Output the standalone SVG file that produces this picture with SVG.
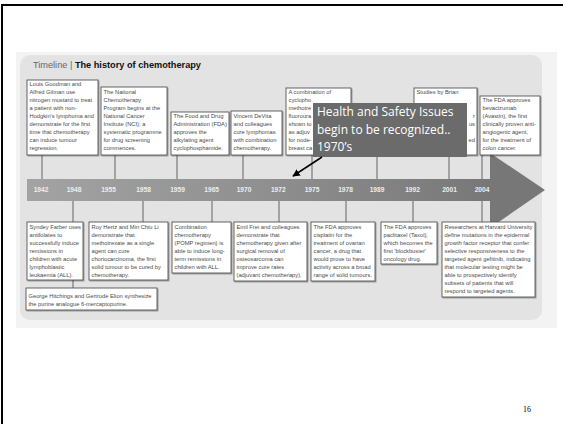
<svg xmlns="http://www.w3.org/2000/svg" width="563" height="424" viewBox="0 0 563 424">
<style>
.bx{fill:#fff;stroke:#555;stroke-width:0.9;filter:url(#sh)}
.t{font-family:"Liberation Sans",Arial,sans-serif;font-size:5.75px;fill:#4a4a4a}
.yr{font-family:"Liberation Sans",Arial,sans-serif;font-size:6.6px;font-weight:bold;fill:#eeeeee;text-anchor:middle}
.ln{stroke:#555;stroke-width:0.9;fill:none}
.co{font-family:"Open Sans","Noto Sans",sans-serif;font-size:12px;fill:#fff}
</style>
<defs>
<filter id="sh" x="-10%" y="-10%" width="130%" height="130%">
<feDropShadow dx="1" dy="1" stdDeviation="0.6" flood-color="#000" flood-opacity="0.35"/>
</filter>
<linearGradient id="band" x1="0" y1="0" x2="1" y2="0">
<stop offset="0" stop-color="#a3a3a3"/>
<stop offset="0.5" stop-color="#909090"/>
<stop offset="1" stop-color="#777"/>
</linearGradient>
<marker id="ah" viewBox="0 0 10 10" refX="9" refY="5" markerWidth="5" markerHeight="5" orient="auto">
<path d="M0,0 L10,5 L0,10 z" fill="#000"/>
</marker>
</defs>
<rect x="0" y="0" width="563" height="424" fill="#fff"/>
<rect x="2" y="5" width="620" height="480" fill="none" stroke="#000" stroke-width="2"/>
<g id="background">
<rect x="16" y="52" width="541" height="276" fill="#f3f3f3"/>
<rect x="20" y="55" width="522" height="265" rx="10" fill="#e3e3e3"/>
</g>
<g id="title">
<text x="33" y="68" font-family="Liberation Sans,Arial,sans-serif" font-size="9.2" fill="#666">Timeline | <tspan font-weight="bold" fill="#111">The history of chemotherapy</tspan></text>
</g>
<g id="timeline">
<rect x="27" y="179" width="465" height="22" fill="url(#band)"/>
<polygon points="490,153 545,190 490,228" fill="#777"/>
<text class="yr" x="41" y="191.6">1942</text>
<text class="yr" x="74" y="191.6">1948</text>
<text class="yr" x="108.5" y="191.6">1955</text>
<text class="yr" x="143.5" y="191.6">1958</text>
<text class="yr" x="177.5" y="191.6">1959</text>
<text class="yr" x="211.7" y="191.6">1965</text>
<text class="yr" x="244" y="191.6">1970</text>
<text class="yr" x="278.3" y="191.6">1972</text>
<text class="yr" x="312" y="191.6">1975</text>
<text class="yr" x="345.5" y="191.6">1978</text>
<text class="yr" x="377" y="191.6">1989</text>
<text class="yr" x="412.5" y="191.6">1992</text>
<text class="yr" x="449.5" y="191.6">2001</text>
<text class="yr" x="482" y="191.6">2004</text>
</g>
<g id="connectors">
<line class="ln" x1="42" y1="155" x2="42" y2="179"/>
<line class="ln" x1="115" y1="155" x2="115" y2="179"/>
<line class="ln" x1="177" y1="155" x2="177" y2="179"/>
<line class="ln" x1="243" y1="155" x2="243" y2="179"/>
<line class="ln" x1="312" y1="155" x2="312" y2="179"/>
<line class="ln" x1="377" y1="155" x2="377" y2="179"/>
<line class="ln" x1="449" y1="155" x2="449" y2="179"/>
<line class="ln" x1="482" y1="155" x2="482" y2="179"/>
<line class="ln" x1="73" y1="201" x2="73" y2="222"/>
<line class="ln" x1="143" y1="201" x2="143" y2="222"/>
<line class="ln" x1="212" y1="201" x2="212" y2="222"/>
<line class="ln" x1="279" y1="201" x2="279" y2="222"/>
<line class="ln" x1="346" y1="201" x2="346" y2="222"/>
<line class="ln" x1="413" y1="201" x2="413" y2="222"/>
<line class="ln" x1="482" y1="201" x2="482" y2="222"/>
<line class="ln" x1="73" y1="280" x2="73" y2="288"/>
</g>
<g id="t1942">
<rect class="bx" x="27" y="80" width="71" height="75"/>
<text class="t" y="86.3"><tspan x="29.5">Louis Goodman and</tspan><tspan x="29.5" dy="8">Alfred Gilman use</tspan><tspan x="29.5" dy="8">nitrogen mustard to treat</tspan><tspan x="29.5" dy="8">a patient with non-</tspan><tspan x="29.5" dy="8">Hodgkin's lymphoma and</tspan><tspan x="29.5" dy="8">demonstrate for the first</tspan><tspan x="29.5" dy="8">time that chemotherapy</tspan><tspan x="29.5" dy="8">can induce tumour</tspan><tspan x="29.5" dy="8">regression.</tspan></text>
</g>
<g id="t1955">
<rect class="bx" x="101" y="87" width="66" height="68"/>
<text class="t" y="94.3"><tspan x="103.5">The National</tspan><tspan x="103.5" dy="8">Chemotherapy</tspan><tspan x="103.5" dy="8">Program begins at the</tspan><tspan x="103.5" dy="8">National Cancer</tspan><tspan x="103.5" dy="8">Institute (NCI); a</tspan><tspan x="103.5" dy="8">systematic programme</tspan><tspan x="103.5" dy="8">for drug screening</tspan><tspan x="103.5" dy="8">commences.</tspan></text>
</g>
<g id="t1959">
<rect class="bx" x="171" y="112" width="58" height="43"/>
<text class="t" y="118.3"><tspan x="173.5">The Food and Drug</tspan><tspan x="173.5" dy="8">Administration (FDA)</tspan><tspan x="173.5" dy="8">approves the</tspan><tspan x="173.5" dy="8">alkylating agent</tspan><tspan x="173.5" dy="8">cyclophosphamide.</tspan></text>
</g>
<g id="t1970">
<rect class="bx" x="231" y="111" width="51" height="44"/>
<text class="t" y="118.3"><tspan x="233.5">Vincent DeVita</tspan><tspan x="233.5" dy="8">and colleagues</tspan><tspan x="233.5" dy="8">cure lymphomas</tspan><tspan x="233.5" dy="8">with combination</tspan><tspan x="233.5" dy="8">chemotherapy.</tspan></text>
</g>
<g id="t1975">
<rect class="bx" x="286" y="88" width="65" height="67"/>
<text class="t" y="94.3"><tspan x="288.5">A combination of</tspan><tspan x="288.5" dy="8">cyclopho</tspan><tspan x="288.5" dy="8">methotre</tspan><tspan x="288.5" dy="8">fluoroura</tspan><tspan x="288.5" dy="8">shown to</tspan><tspan x="288.5" dy="8">as adjuv</tspan><tspan x="288.5" dy="8">for node-</tspan><tspan x="288.5" dy="8">breast ca</tspan></text>
</g>
<g id="t2001">
<rect class="bx" x="414" y="88" width="63" height="67"/>
<text class="t" x="416.5" y="94.3">Studies by Brian</text>
<text class="t" x="475" y="118.3" text-anchor="end">r</text>
<text class="t" x="475" y="126.3" text-anchor="end">us</text>
<text class="t" x="475" y="142.3" text-anchor="end">ed</text>
</g>
<g id="t2004">
<rect class="bx" x="480" y="96" width="60" height="59"/>
<text class="t" y="102.3"><tspan x="482.5">The FDA approves</tspan><tspan x="482.5" dy="8">bevacizumab</tspan><tspan x="482.5" dy="8">(Avastin), the first</tspan><tspan x="482.5" dy="8">clinically proven anti-</tspan><tspan x="482.5" dy="8">angiogenic agent,</tspan><tspan x="482.5" dy="8">for the treatment of</tspan><tspan x="482.5" dy="8">colon cancer.</tspan></text>
</g>
<g id="b1948">
<rect class="bx" x="27" y="222" width="56" height="58"/>
<text class="t" y="229.3"><tspan x="29.5">Syndey Farber uses</tspan><tspan x="29.5" dy="8">antifolates to</tspan><tspan x="29.5" dy="8">successfully induce</tspan><tspan x="29.5" dy="8">remissions in</tspan><tspan x="29.5" dy="8">children with acute</tspan><tspan x="29.5" dy="8">lymphoblastic</tspan><tspan x="29.5" dy="8">leukaemia (ALL).</tspan></text>
</g>
<g id="b1958">
<rect class="bx" x="89" y="222" width="79" height="58"/>
<text class="t" y="229.3"><tspan x="91.5">Roy Hertz and Min Chiu Li</tspan><tspan x="91.5" dy="8">demonstrate that</tspan><tspan x="91.5" dy="8">methotrexate as a single</tspan><tspan x="91.5" dy="8">agent can cure</tspan><tspan x="91.5" dy="8">choriocarcinoma, the first</tspan><tspan x="91.5" dy="8">solid tumour to be cured by</tspan><tspan x="91.5" dy="8">chemotherapy.</tspan></text>
</g>
<g id="b1965">
<rect class="bx" x="172" y="222" width="59" height="51"/>
<text class="t" y="229.3"><tspan x="174.5">Combination</tspan><tspan x="174.5" dy="8">chemotherapy</tspan><tspan x="174.5" dy="8">(POMP regimen) is</tspan><tspan x="174.5" dy="8">able to induce long-</tspan><tspan x="174.5" dy="8">term remissions in</tspan><tspan x="174.5" dy="8">children with ALL.</tspan></text>
</g>
<g id="b1972">
<rect class="bx" x="234" y="222" width="73" height="59"/>
<text class="t" y="229.3"><tspan x="236.5">Emil Frei and colleagues</tspan><tspan x="236.5" dy="8">demonstrate that</tspan><tspan x="236.5" dy="8">chemotherapy given after</tspan><tspan x="236.5" dy="8">surgical removal of</tspan><tspan x="236.5" dy="8">osteosarcoma can</tspan><tspan x="236.5" dy="8">improve cure rates</tspan><tspan x="236.5" dy="8">(adjuvant chemotherapy).</tspan></text>
</g>
<g id="b1978">
<rect class="bx" x="311" y="222" width="64" height="59"/>
<text class="t" y="229.3"><tspan x="313.5">The FDA approves</tspan><tspan x="313.5" dy="8">cisplatin for the</tspan><tspan x="313.5" dy="8">treatment of ovarian</tspan><tspan x="313.5" dy="8">cancer, a drug that</tspan><tspan x="313.5" dy="8">would prove to have</tspan><tspan x="313.5" dy="8">activity across a broad</tspan><tspan x="313.5" dy="8">range of solid tumours.</tspan></text>
</g>
<g id="b1992">
<rect class="bx" x="381" y="222" width="56" height="42"/>
<text class="t" y="229.3"><tspan x="383.5">The FDA approves</tspan><tspan x="383.5" dy="8">paclitaxel (Taxol),</tspan><tspan x="383.5" dy="8">which becomes the</tspan><tspan x="383.5" dy="8">first 'blockbuster'</tspan><tspan x="383.5" dy="8">oncology drug.</tspan></text>
</g>
<g id="b2004">
<rect class="bx" x="442" y="222" width="93" height="75"/>
<text class="t" y="229.3"><tspan x="444.5">Researchers at Harvard University</tspan><tspan x="444.5" dy="8">define mutations in the epidermal</tspan><tspan x="444.5" dy="8">growth factor receptor that confer</tspan><tspan x="444.5" dy="8">selective responsiveness to the</tspan><tspan x="444.5" dy="8">targeted agent gefitinib, indicating</tspan><tspan x="444.5" dy="8">that molecular testing might be</tspan><tspan x="444.5" dy="8">able to prospectively identify</tspan><tspan x="444.5" dy="8">subsets of patients that will</tspan><tspan x="444.5" dy="8">respond to targeted agents.</tspan></text>
</g>
<g id="b1948b">
<rect class="bx" x="26" y="288" width="131" height="22"/>
<text class="t" y="297.5"><tspan x="28.5">George Hitchings and Gertrude Elion synthesize</tspan><tspan x="28.5" dy="8">the purine analogue 6-mercaptopurine.</tspan></text>
</g>
<g id="callout">
<rect x="313" y="103" width="154" height="54" fill="#6b6b6b"/>
<text class="co" x="317" y="115.5">Health and Safety Issues</text>
<text class="co" x="317" y="133.5">begin to be recognized..</text>
<text class="co" x="317" y="151">1970’s</text>
</g>
<g id="callout-arrow">
<line x1="322" y1="157" x2="293" y2="176" stroke="#000" stroke-width="1.5" marker-end="url(#ah)"/>
</g>
<text x="527" y="412" font-family="Liberation Serif,serif" font-size="8" text-anchor="middle" fill="#000">16</text>
</svg>
